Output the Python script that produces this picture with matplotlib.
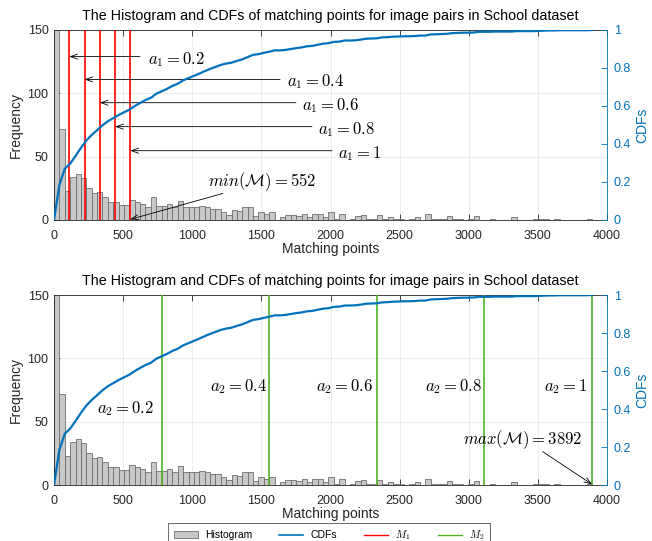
import numpy as np
import matplotlib
matplotlib.use('Agg')
import matplotlib.pyplot as plt
from matplotlib.patches import Patch
from matplotlib.lines import Line2D

# ---------------- data ----------------
counts = [157, 72, 23, 34, 36, 33, 25, 21, 22, 18, 14, 14, 12, 12, 16, 14, 13, 10, 18, 11,
          11, 13, 10, 15, 10, 10, 10,
          11, 10, 9, 9, 6, 4, 8, 7, 10, 10, 3, 6, 5, 6, 0, 2, 4, 4, 3, 5, 2, 5, 5, 2, 6, 1, 5,
          0, 1, 3, 4, 1, 1, 4, 1, 2, 1, 1, 0, 1, 2, 0, 5, 1, 1, 1, 3, 1, 1, 0, 1, 3, 0,
          0, 1, 0, 0, 0, 2, 0, 0, 0, 1, 1, 1, 0, 1, 0, 0, 0, 0, 0, 1]
min_M = 552
max_M = 3892
n_bins = 100
ratios = [0.2, 0.4, 0.6, 0.8, 1]
ratio_labels = ['0.2', '0.4', '0.6', '0.8', '1']
title = 'The Histogram and CDFs of matching points for image pairs in School dataset'
x_ticks = [0, 500, 1000, 1500, 2000, 2500, 3000, 3500, 4000]
freq_ticks = [0, 50, 100, 150]
cdf_ticks = [0, 0.2, 0.4, 0.6, 0.8, 1]
cdf_ticklabels = ['0', '0.2', '0.4', '0.6', '0.8', '1']
legend_labels = ['Histogram', 'CDFs', '$M_1$', '$M_2$']

# ---------------- layout ----------------
top_arrow_y = [129, 111, 92.6, 73.7, 54.7]
top_arrow_tail = [622, 1635, 1750, 1866, 2011]
top_text_x = [680, 1685, 1794, 1910, 2054]
bottom_text_x = [311, 1128, 1895, 2684, 3544]
bottom_text_y = [60.5, 78, 77.6, 77.6, 77.6]

plt.rcParams['font.family'] = ['Liberation Sans', 'DejaVu Sans']
plt.rcParams['mathtext.fontset'] = 'cm'

AXC = (0.15, 0.15, 0.15)
BLUE = '#0072BD'
RED = '#ff0000'
GREEN = '#4db428'
BARF = '#c8c8c8'
BARE = '#6e6e6e'

counts = np.array(counts, dtype=float)
edges = np.linspace(0, max_M, n_bins + 1)
cdf = np.concatenate([[0], np.cumsum(counts) / counts.sum()])

fig = plt.figure(figsize=(6.52, 5.41), dpi=100)
ax_top = fig.add_axes([54 / 652, 1 - 220 / 541, 553 / 652, 190 / 541])
ax_bot = fig.add_axes([54 / 652, 1 - 485 / 541, 553 / 652, 190 / 541])

arrow_kw = dict(arrowstyle='->, head_length=0.5, head_width=0.18', color='black', lw=0.6,
                shrinkA=0, shrinkB=0)


def panel(ax, line_vals, line_color):
    ax.set_axisbelow(True)
    ax.bar(edges[:-1], counts, width=np.diff(edges), align='edge', color=BARF,
           edgecolor=BARE, linewidth=0.6, zorder=1)
    for v in line_vals:
        ax.axvline(v, color=line_color, lw=1.2, zorder=3)
    ax.set_xlim(0, 4000)
    ax.set_ylim(0, 150)
    ax.set_xticks(x_ticks)
    ax.set_yticks(freq_ticks)
    ax.grid(True, color=AXC, alpha=0.1, lw=0.6)
    ax.tick_params(direction='in', length=4, width=0.6, colors=AXC, labelsize=9,
                   top=True, right=False)
    ax.tick_params(axis='x', pad=7)
    ax.tick_params(axis='y', pad=4)
    for s in ['left', 'top', 'bottom']:
        ax.spines[s].set_color(AXC)
        ax.spines[s].set_linewidth(0.6)
    ax.spines['right'].set_visible(False)
    ax.set_xlabel('Matching points', fontsize=10, color=AXC, labelpad=0)
    ax.set_ylabel('Frequency', fontsize=10, color=AXC, labelpad=3)
    ax.set_title(title, fontsize=10.25, color='black', pad=7)

    ax2 = ax.twinx()
    ax2.plot(edges, cdf, color=BLUE, lw=1.6, zorder=4)
    ax2.set_ylim(0, 1)
    ax2.set_yticks(cdf_ticks)
    ax2.set_yticklabels(cdf_ticklabels)
    ax2.tick_params(axis='y', direction='in', length=4, width=0.6, colors=BLUE, labelsize=9,
                    pad=5)
    for s in ['left', 'top', 'bottom']:
        ax2.spines[s].set_visible(False)
    ax2.spines['right'].set_color(BLUE)
    ax2.spines['right'].set_linewidth(0.6)
    ax2.set_ylabel('CDFs', fontsize=10, color=BLUE, labelpad=3)
    return ax2


# ---- top panel ----
m1 = [r * min_M for r in ratios]
panel(ax_top, m1, RED)
for v, lab, y, tail, tx in zip(m1, ratio_labels, top_arrow_y, top_arrow_tail, top_text_x):
    ax_top.annotate('', xy=(v, y), xytext=(tail, y), arrowprops=arrow_kw, zorder=5)
    ax_top.text(tx, y - 2, r'$a_1 = %s$' % lab, fontsize=12, ha='left', va='center', zorder=6)
ax_top.annotate('', xy=(min_M, 0.5), xytext=(1222, 21), arrowprops=arrow_kw, zorder=5)
ax_top.text(1114, 30, r'$min(\mathcal{M}) = %d$' % min_M, fontsize=12, ha='left', va='center')

# ---- bottom panel ----
m2 = [r * max_M for r in ratios]
panel(ax_bot, m2, GREEN)
for lab, tx, ty in zip(ratio_labels, bottom_text_x, bottom_text_y):
    ax_bot.text(tx, ty, r'$a_2 = %s$' % lab, fontsize=12, ha='left', va='center', zorder=6)
ax_bot.annotate('', xy=(max_M, 0.5), xytext=(3535, 26.3), arrowprops=arrow_kw, zorder=5)
ax_bot.text(2958, 35.5, r'$max(\mathcal{M}) = %d$' % max_M, fontsize=12, ha='left', va='center')

# ---- legend ----
handles = [Patch(facecolor=BARF, edgecolor=BARE, linewidth=0.6),
           Line2D([], [], color=BLUE, lw=1.2),
           Line2D([], [], color=RED, lw=1.0),
           Line2D([], [], color=GREEN, lw=1.0)]
leg = fig.legend(handles, legend_labels, loc='upper center', bbox_to_anchor=(0.5046, 0.0333),
                 ncol=4, fontsize=7.5, frameon=True, fancybox=False, edgecolor=AXC,
                 handlelength=2.3, handletextpad=0.7, columnspacing=2.6, borderpad=0.5,
                 borderaxespad=0)
leg.get_frame().set_linewidth(0.6)

fig.savefig('out.png', dpi=100)
